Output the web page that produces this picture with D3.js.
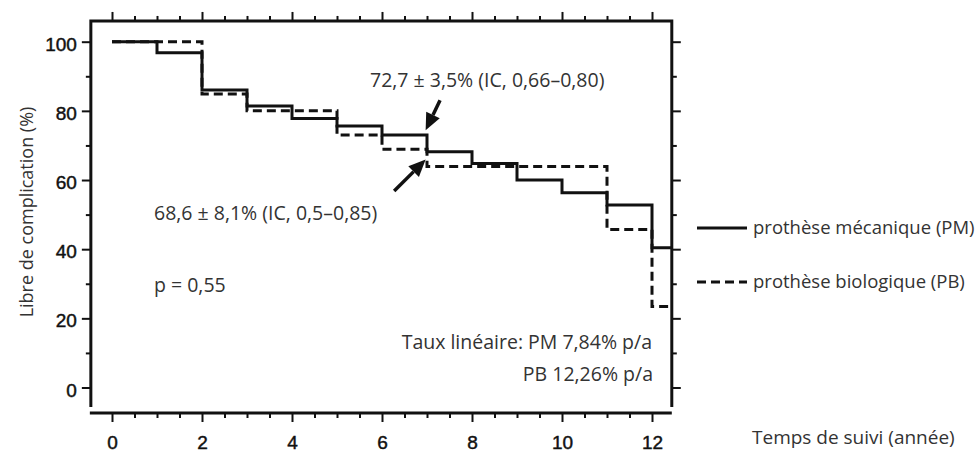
<!DOCTYPE html>
<html>
<head>
<meta charset="utf-8">
<script src="https://cdn.jsdelivr.net/npm/d3@7/dist/d3.min.js"></script>
<style>
  body { margin: 0; background: #fff; }
  svg { display: block; }
</style>
</head>
<body>
<script>
// follow-up years and freedom-from-complication values (%)
const years = [0, 1, 2, 3, 4, 5, 6, 7, 8, 9, 10, 11, 12]
const pmValues = [100, 96.8, 86.0, 81.4, 77.8, 75.6, 73.0, 68.2, 64.8, 60.0, 56.3, 52.8, 40.4]
const pbValues = [100, 100, 84.9, 80.0, 80.0, 73.0, 68.9, 63.9, 63.9, 63.9, 63.9, 45.7, 23.4]
const lastFollowUp = 12.44

const xTickLabels = [0, 2, 4, 6, 8, 10, 12]
const yTickLabels = [0, 20, 40, 60, 80, 100]

const legendLabels = ['prothèse mécanique (PM)', 'prothèse biologique (PB)']

// arrows in data units: [fromYear, fromValue, toYear, toValue]
const arrows = [
  [7.29, 83.1, 6.97, 74.4],
  [6.27, 56.8, 6.97, 65.9]
]

const W = 978
const H = 454

const x = d3.scaleLinear().domain([0, 12]).range([112, 652])
const y = d3.scaleLinear().domain([0, 100]).range([387.5, 41.7])

const leftX = x(-0.47)
const rightX = x(lastFollowUp)
const topY = y(106)
const frameBottom = 407
const axisY = 413

const svg = d3.select('body')
  .append('svg')
  .attr('width', W)
  .attr('height', H)

const tickFont = "'Liberation Sans', Arial, sans-serif"
const textFont = "'Open Sans', 'Noto Sans', sans-serif"

function styleAxis (g) {
  g.select('.domain').remove()
  g.selectAll('line').attr('stroke', '#111').attr('stroke-width', 2)
  g.selectAll('text')
    .attr('font-family', tickFont)
    .attr('font-size', 19)
    .attr('fill', '#111')
    .attr('stroke', '#111')
    .attr('stroke-width', 0.45)
}

const halfYears = d3.range(0, lastFollowUp, 0.5)
const tens = d3.range(0, 100.1, 10)
const minorYears = halfYears.filter(d => d % 2 !== 0)
const minorTens = tens.filter(d => d % 20 !== 0)

// bottom axis
svg.append('g')
  .attr('transform', `translate(0,${axisY})`)
  .call(d3.axisBottom(x).tickValues(minorYears).tickSize(5).tickFormat(''))
  .call(styleAxis)
svg.append('g')
  .attr('transform', `translate(0,${axisY})`)
  .call(d3.axisBottom(x).tickValues(xTickLabels).tickSize(9).tickPadding(14).tickFormat(d3.format('d')))
  .call(styleAxis)

// top axis
svg.append('g')
  .attr('transform', `translate(0,${topY})`)
  .call(d3.axisTop(x).tickValues(minorYears).tickSize(5).tickFormat(''))
  .call(styleAxis)
svg.append('g')
  .attr('transform', `translate(0,${topY})`)
  .call(d3.axisTop(x).tickValues(xTickLabels).tickSize(9).tickFormat(''))
  .call(styleAxis)

// left axis
svg.append('g')
  .attr('transform', `translate(${leftX},0)`)
  .call(d3.axisLeft(y).tickValues(minorTens).tickSize(5).tickFormat(''))
  .call(styleAxis)
svg.append('g')
  .attr('transform', `translate(${leftX},0)`)
  .call(d3.axisLeft(y).tickValues(yTickLabels).tickSize(9).tickPadding(5).tickFormat(d3.format('d')))
  .call(styleAxis)
  .selectAll('text').attr('dy', '0.45em')

// right axis
svg.append('g')
  .attr('transform', `translate(${rightX},0)`)
  .call(d3.axisRight(y).tickValues(minorTens).tickSize(5).tickFormat(''))
  .call(styleAxis)
svg.append('g')
  .attr('transform', `translate(${rightX},0)`)
  .call(d3.axisRight(y).tickValues(yTickLabels).tickSize(9).tickFormat(''))
  .call(styleAxis)

// frame
const frame = svg.append('g').attr('stroke', '#111').attr('stroke-width', 3).attr('fill', 'none')
frame.append('path').attr('d', `M${leftX},${frameBottom}V${topY}H${rightX}V${frameBottom}`)
frame.append('line').attr('x1', leftX - 1).attr('x2', rightX).attr('y1', axisY).attr('y2', axisY)

// survival curves
const step = d3.line()
  .x(d => x(d[0]))
  .y(d => y(d[1]))
  .curve(d3.curveStepAfter)

const pbPoints = years.map((t, i) => [t, pbValues[i]]).concat([[lastFollowUp, pbValues[pbValues.length - 1]]])
const pmPoints = years.map((t, i) => [t, pmValues[i]]).concat([[lastFollowUp, pmValues[pmValues.length - 1]]])

svg.append('path')
  .attr('d', step(pbPoints))
  .attr('fill', 'none')
  .attr('stroke', '#111')
  .attr('stroke-width', 3)
  .attr('stroke-dasharray', '9,5')

svg.append('path')
  .attr('d', step(pmPoints))
  .attr('fill', 'none')
  .attr('stroke', '#111')
  .attr('stroke-width', 3)

// arrows
arrows.forEach(([x0, y0, x1, y1]) => {
  const ax = x(x0), ay = y(y0), bx = x(x1), by = y(y1)
  const len = Math.hypot(bx - ax, by - ay)
  const ux = (bx - ax) / len, uy = (by - ay) / len
  const head = 17, half = 7.5
  const baseX = bx - ux * head, baseY = by - uy * head
  svg.append('line')
    .attr('x1', ax).attr('y1', ay).attr('x2', baseX).attr('y2', baseY)
    .attr('stroke', '#111').attr('stroke-width', 3.5)
  svg.append('path')
    .attr('d', `M${bx},${by}L${baseX - uy * half},${baseY + ux * half}L${baseX + uy * half},${baseY - ux * half}Z`)
    .attr('fill', '#111')
})

// annotations
function note (tx, ty, str, anchor, size) {
  svg.append('text')
    .attr('x', tx).attr('y', ty)
    .attr('text-anchor', anchor || 'start')
    .attr('font-family', textFont)
    .attr('font-size', size || 19.5)
    .attr('fill', '#333')
    .text(str)
}

note(370, 87, '72,7 ± 3,5% (IC, 0,66–0,80)')
note(154, 220, '68,6 ± 8,1% (IC, 0,5–0,85)')
note(154, 292, 'p = 0,55')
note(652, 349, 'Taux linéaire: PM 7,84% p/a', 'end')
note(653, 381, 'PB 12,26% p/a', 'end')

// y title
svg.append('text')
  .attr('transform', 'translate(33,212) rotate(-90)')
  .attr('text-anchor', 'middle')
  .attr('font-family', textFont)
  .attr('font-size', 18)
  .attr('fill', '#333')
  .text('Libre de complication (%)')

// x title
note(752, 444, 'Temps de suivi (année)', 'start', 19)

// legend
const legend = svg.append('g')
legendLabels.forEach((label, i) => {
  const ly = 228 + i * 54
  legend.append('line')
    .attr('x1', 697).attr('x2', 747).attr('y1', ly).attr('y2', ly)
    .attr('stroke', '#111').attr('stroke-width', 3)
    .attr('stroke-dasharray', i === 0 ? null : '9,5')
  legend.append('text')
    .attr('x', 753).attr('y', ly + 6)
    .attr('font-family', textFont)
    .attr('font-size', 18.5)
    .attr('fill', '#333')
    .text(label)
})
</script>
</body>
</html>
